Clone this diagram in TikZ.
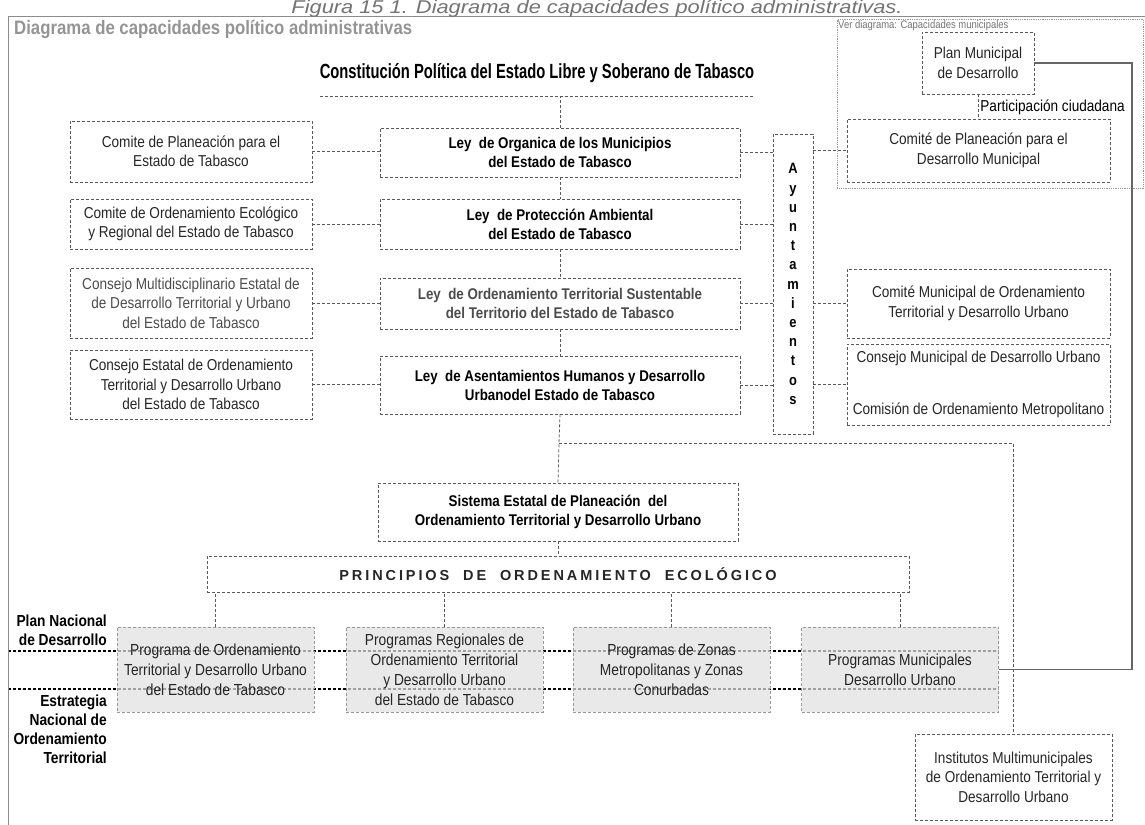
\documentclass[tikz,border=0pt]{standalone}
\usepackage{fontspec}
\setmainfont{Liberation Sans}[FakeStretch=0.86]
\newfontfamily\estrecha{Liberation Sans}[FakeStretch=0.72]
\newfontfamily\espaciada{Liberation Sans}[LetterSpace=20]
\newfontfamily\leyfont{Liberation Sans}[FakeStretch=1.18]
\usepackage{tikz}
\usetikzlibrary{
  positioning,   % 节点相对定位
  backgrounds    % 背景层（国家级虚线压在方框下）
}
\newcommand{\fcaja}{\fontsize{15.8}{19.5}\selectfont}
\newcommand{\fley}{\bfseries\fontsize{15.5}{19}\selectfont}
\newcommand{\fprog}{\fontsize{16}{20}\selectfont}

\begin{document}
\begin{tikzpicture}[x=1pt, y=-1pt,
  caja/.style={draw=black!65, dash pattern=on 3pt off 2pt, line width=0.8pt,
    align=center, inner sep=2pt, text=black!85, font=\fcaja},
  izq/.style={caja, minimum width=242},
  ley/.style={caja, minimum width=360, font=\fley, text=black},
  der/.style={caja, minimum width=263},
  prog/.style={caja, draw=black!40, fill=black!12, fill opacity=0.72, text opacity=1,
    minimum width=197, minimum height=85, font=\fprog},
  conector/.style={draw=black!65, dash pattern=on 3pt off 2pt, line width=0.8pt},
  nacional/.style={draw=black, dash pattern=on 3pt off 2pt, line width=2pt},
  solida/.style={draw=black!60, line width=1.6pt},
  etiqueta/.style={font=\bfseries\fontsize{16}{19}\selectfont, align=right, inner sep=0pt}]
  \useasboundingbox (0,0) rectangle (1145,824);

  % 外框与标题
  \draw[black!45, line width=1pt] (8,17) rectangle (1170,850);
  \node[font=\leyfont\itshape\fontsize{18.5}{20}\selectfont, text=black!55, anchor=base]
    (leyenda) at (597,13.5) {Figura 15 1. Diagrama de capacidades político administrativas.};
  \node[font=\bfseries\fontsize{19.5}{22}\selectfont, text=black!42, anchor=west, inner sep=0pt]
    (titulo) at (14,29) {Diagrama de capacidades político administrativas};
  \node[font=\estrecha\bfseries\fontsize{20.5}{23}\selectfont, minimum width=430,
    minimum height=46, inner sep=0pt, anchor=south] (constitucion) at (537,96)
    {Constitución Política del Estado Libre y Soberano de Tabasco};
  \draw[conector] (constitucion.south west) -- (constitucion.south east);

  % 左列：州级机构
  \node[izq, minimum height=61] (cpe) at (191,151.5) {Comite de Planeación para el\\Estado de Tabasco};
  \node[izq, minimum height=50] (coe) at (191,224) {Comite de Ordenamiento Ecológico\\y Regional del Estado de Tabasco};
  \node[izq, minimum height=70, text=black!70] (cmd) at (191,303) {Consejo Multidisciplinario Estatal de\\de Desarrollo Territorial y Urbano\\del Estado de Tabasco};
  \node[izq, minimum height=69] (ceo) at (191,384.5) {Consejo Estatal de Ordenamiento\\Territorial y Desarrollo Urbano\\del Estado de Tabasco};

  % 中列：法律
  \node[ley, minimum height=49] (lorg) at (560,152.5) {Ley~~de Organica de los Municipios\\del Estado de Tabasco};
  \node[ley, minimum height=50] (lpro) at (560,224) {Ley~~de Protección Ambiental\\del Estado de Tabasco};
  \node[ley, minimum height=51, text=black!70] (lord) at (560,303.5) {Ley~~de Ordenamiento Territorial Sustentable\\del Territorio del Estado de Tabasco};
  \node[ley, minimum height=58] (lasen) at (560,385) {Ley~~de Asentamientos Humanos y Desarrollo\\Urbanodel Estado de Tabasco};
  \node[caja, font=\bfseries\fontsize{15}{19.2}\selectfont, text=black, minimum width=40, minimum height=300]
    (ayun) at (793,284) {A\\y\\u\\n\\t\\a\\m\\i\\e\\n\\t\\o\\s};

  % 右列：市级机构
  \node[draw=black!40, densely dotted, line width=0.8pt, minimum width=306,
    minimum height=169, inner sep=0pt, anchor=north west] (grupo) at (837,19) {};
  \node[font=\fontsize{11}{12}\selectfont, text=black!55, anchor=north west, inner sep=1pt]
    (vergrupo) at (grupo.north west) {Ver diagrama: Capacidades municipales};
  \node[caja, minimum width=112, minimum height=62] (plan) at (978,63) {Plan Municipal\\de Desarrollo};
  \node[der, minimum height=63] (cpdm) at (978.5,150.5) {Comité de Planeación para el\\Desarrollo Municipal};
  \node[der, minimum height=69] (cmot) at (978.5,303.5) {Comité Municipal de Ordenamiento\\Territorial y Desarrollo Urbano};
  \node[der, minimum height=81] (cmdu) at (978.5,384.5) {Consejo Municipal de Desarrollo Urbano\\[33pt]Comisión de Ordenamiento Metropolitano};

  % 系统与原则
  \node[ley, minimum height=58] (sistema) at (558,512) {Sistema Estatal de Planeación~~del\\Ordenamiento Territorial y Desarrollo Urbano};
  \node[caja, font=\espaciada\bfseries\fontsize{14.5}{16}\selectfont, text=black!85,
    minimum width=702, minimum height=36] (principios) at (558,574)
    {PRINCIPIOS~ DE~ ORDENAMIENTO~ ECOLÓGICO};

  % 下方规划
  \node[prog] (p1) at (215.5,669.5) {Programa de Ordenamiento\\Territorial y Desarrollo Urbano\\del Estado de Tabasco};
  \node[prog] (p2) at (444.5,669.5) {Programas Regionales de\\Ordenamiento Territorial\\y Desarrollo Urbano\\del Estado de Tabasco};
  \node[prog] (p3) at (671.5,669.5) {Programas de Zonas\\Metropolitanas y Zonas\\Conurbadas};
  \node[prog] (p4) at (900,669.5) {Programas Municipales\\Desarrollo Urbano};
  \node[caja, minimum width=197, minimum height=86] (institutos) at (1013.5,777)
    {Institutos Multimunicipales\\de Ordenamiento Territorial y\\Desarrollo Urbano};

  \node[etiqueta, anchor=east] (pnd) at (107,630.5) {Plan Nacional\\de Desarrollo};
  \node[etiqueta, anchor=east] (enot) at (107,729) {Estrategia\\Nacional de\\Ordenamiento\\Territorial};

  % 连线
  \draw[conector] (lorg.north) -- (lorg.north |- constitucion.south);
  \foreach \a/\b in {lorg/lpro, lpro/lord, lord/lasen}
    \draw[conector] (\a.south) -- (\b.north);
  \foreach \a/\b in {cpe/lorg, coe/lpro, cmd/lord, ceo/lasen}
    \draw[conector] (\a.east) -- (\a.east -| \b.west);
  \foreach \a in {lorg, lpro, lord, lasen}
    \draw[conector] (\a.east) -- (\a.east -| ayun.west);
  \foreach \b in {cpdm, cmot, cmdu}
    \draw[conector] (ayun.east |- \b.west) -- (\b.west);
  \draw[conector] (plan.south) -- (plan.south |- cpdm.north)
    node[pos=0.55, right, font=\fcaja, inner sep=2pt] (partic) {Participación ciudadana};

  \coordinate (bifur) at (559,443);
  \draw[conector] (lasen.south) -- (bifur) -- (sistema.north);
  \draw[conector] (bifur) -| (institutos.north);
  \draw[conector] (sistema.south) -- (principios.north);
  \foreach \p in {p1, p2, p3, p4}
    \draw[conector] (\p.north) -- (\p.north |- principios.south);

  \coordinate (codo) at (1132,63);
  \draw[solida] (plan.east) -- (codo) |- (p4.east);

  % 国家级虚线（在方框下面）
  \coordinate (nac1) at (8,651);
  \coordinate (nac2) at (8,689);
  \begin{scope}[on background layer]
    \draw[nacional] (nac1) -- (nac1 -| p4.east);
    \draw[nacional] (nac2) -- (nac2 -| p4.east);
  \end{scope}
\end{tikzpicture}
\end{document}
